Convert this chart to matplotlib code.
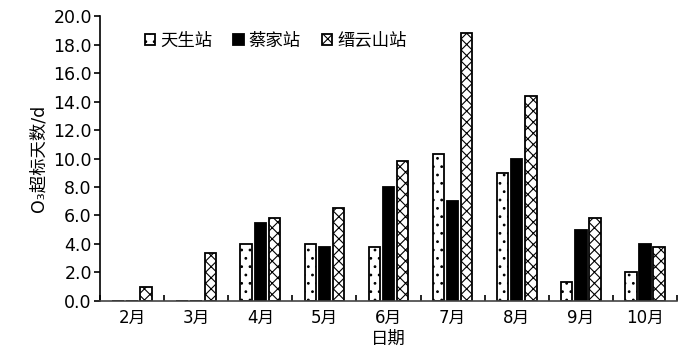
import matplotlib
matplotlib.use("Agg")
import matplotlib.pyplot as plt
import numpy as np

plt.rcParams['font.family'] = ['DejaVu Sans', 'Noto Sans CJK SC']
plt.rcParams['hatch.linewidth'] = 0.8

# data
months = ["2月", "3月", "4月", "5月", "6月", "7月", "8月", "9月", "10月"]
tiansheng = [0, 0, 4.0, 4.0, 3.8, 10.3, 9.0, 1.3, 2.0]
caijia = [0, 0, 5.5, 3.8, 8.0, 7.0, 10.0, 5.0, 4.0]
jinyun = [1.0, 3.4, 5.8, 6.5, 9.8, 18.8, 14.4, 5.8, 3.8]
series_names = ["天生站", "蔡家站", "缙云山站"]

x = np.arange(len(months))
w = 0.18

fig, ax = plt.subplots(figsize=(7, 3.57), dpi=100)
fig.subplots_adjust(left=0.143, right=0.967, bottom=0.157, top=0.955)

ax.bar(x - 0.22, tiansheng, w, color="white", edgecolor="black", linewidth=1.3,
       hatch="..", label=series_names[0], zorder=2)
ax.bar(x, caijia, w, color="black", edgecolor="black", linewidth=1.3,
       label=series_names[1], zorder=2)
ax.bar(x + 0.22, jinyun, w, color="white", edgecolor="black", linewidth=1.3,
       hatch="xxx", label=series_names[2], zorder=2)

ax.set_xlim(-0.5, len(months) - 0.5)
ax.set_ylim(0, 20)
ax.set_yticks(np.arange(0, 20.1, 2))
ax.set_yticklabels([f"{v:.1f}" for v in np.arange(0, 20.1, 2)], fontsize=12.5)
ax.set_xticks(x)
ax.set_xticklabels(months, fontsize=12, family=['DejaVu Sans', 'Noto Sans CJK SC'])
ax.set_xticks(np.arange(-0.5, len(months)), minor=True)
ax.tick_params(axis="x", which="major", length=0, pad=6)
ax.tick_params(axis="x", which="minor", direction="in", length=4, width=1.2)
ax.tick_params(axis="y", direction="out", length=4, width=1.2, pad=2)

ax.spines["top"].set_visible(False)
ax.spines["right"].set_visible(False)
ax.spines["left"].set_linewidth(1.2)
ax.spines["bottom"].set_linewidth(1.2)
ax.spines["bottom"].set_color("#444444")

ax.set_xlabel("日期", fontsize=12.5, family=['Noto Sans CJK SC'], labelpad=2)
ax.set_ylabel("O₃超标天数/d", fontsize=12.5, labelpad=4,
              family=['DejaVu Sans', 'Noto Sans CJK SC'])

leg = ax.legend(loc="upper left", bbox_to_anchor=(0.05, 1.0), ncol=3, frameon=False,
                prop={'family': ['DejaVu Sans', 'Noto Sans CJK SC'], 'size': 12.5},
                handlelength=0.6, handleheight=0.6, handletextpad=0.3, columnspacing=1.2)

fig.savefig("out.png", dpi=100)
